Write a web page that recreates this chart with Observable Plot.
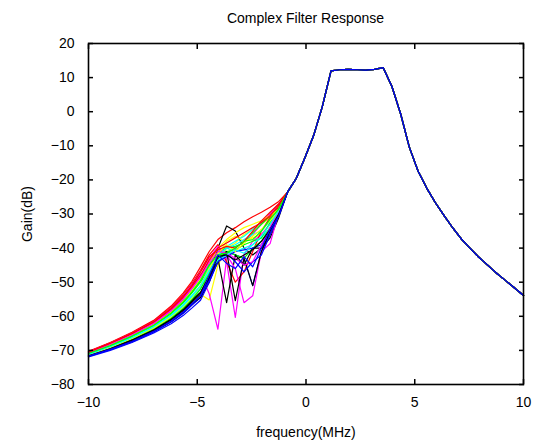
<!DOCTYPE html>
<html>
<head>
<meta charset="utf-8">
<script src="https://cdn.jsdelivr.net/npm/d3@7"></script>
<script src="https://cdn.jsdelivr.net/npm/@observablehq/plot@0.6"></script>
<style>
  html, body { margin: 0; padding: 0; background: #fff; }
  #wrap { width: 542px; height: 446px; position: relative; font-family: "Liberation Sans", Arial, sans-serif; }
  #title { position: absolute; left: 88px; width: 435px; top: 10px; height: 20px; line-height: 16px; font-size: 14px; text-align: center; color: #000; }
  #chart { position: absolute; left: 0; top: 30px; }
</style>
</head>
<body>
<div id="wrap">
  <div id="title">Complex Filter Response</div>
  <div id="chart"></div>
</div>
<script>
// ---- data ----
const xTicks = [-10, -5, 0, 5, 10];
const yTicks = [20, 10, 0, -10, -20, -30, -40, -50, -60, -70, -80];

// frequencies (MHz) where the runs differ
const freqLeft = [-10, -9, -8, -7, -6.2, -5.65, -5.25, -4.85, -4.45, -4.05, -3.65, -3.25, -2.85, -2.45, -2.05, -1.65, -1.25];
// frequencies (MHz) where all runs coincide
const freqShared = [-0.85, -0.45, -0.05, 0.35, 0.75, 1.15, 1.55, 1.95, 2.35, 2.75, 3.15, 3.55, 3.95, 4.35, 4.75, 5.15, 5.55, 5.95, 6.35, 6.75, 7.15, 7.55, 7.95, 8.35, 8.75, 9.15, 9.55, 10];
const gainShared = [-23.6, -19.6, -13.5, -7.0, 1.5, 12.0, 12.3, 12.4, 12.3, 12.2, 12.4, 12.9, 7.4, -0.6, -10.4, -17.4, -22.4, -26.7, -30.5, -34.1, -37.4, -40.1, -42.7, -45.0, -47.3, -49.4, -51.5, -53.9];

const seriesNames  = ["y1","m1","c1","r1","g1","k1","b1","y2","m2","c2","r2","g2","k2","b2",
                      "y3","m3","c3","r3","g3","k3","b3","y4","m4","c4","r4","g4","k4","b4"];
const seriesColors = ["#ffff00","#ff00ff","#00ffff","#ff0000","#00ff00","#000000","#0000ff",
                      "#ffff00","#ff00ff","#00ffff","#ff0000","#00ff00","#000000","#0000ff",
                      "#ffff00","#ff00ff","#00ffff","#ff0000","#00ff00","#000000","#0000ff",
                      "#ffff00","#ff00ff","#00ffff","#ff0000","#00ff00","#000000","#0000ff"];

const gainY1 = [-71.6,-69.6,-67.2,-64.3,-61.2,-58.6,-56.0,-53.5,-55.2,-45.0,-40.0,-38.5,-36.0,-34.5,-33.0,-31.0,-28.5];
const gainM1 = [-70.5,-67.9,-65.0,-61.7,-57.8,-54.3,-51.2,-47.5,-53.4,-63.8,-43.0,-40.0,-38.0,-36.0,-33.0,-30.0,-27.0];
const gainC1 = [-71.0,-68.6,-65.9,-62.7,-59.0,-55.7,-52.7,-49.5,-45.5,-41.0,-39.5,-38.0,-36.5,-34.5,-32.5,-30.5,-28.0];
const gainR1 = [-70.3,-67.7,-64.7,-61.2,-57.0,-53.2,-49.8,-45.5,-41.0,-37.5,-35.5,-34.0,-32.3,-30.8,-29.5,-28.0,-26.3];
const gainG1 = [-70.8,-68.4,-65.6,-62.3,-58.6,-55.3,-52.3,-49.0,-45.0,-41.0,-40.0,-39.5,-38.5,-35.5,-33.0,-30.5,-28.0];
const gainK1 = [-71.4,-69.3,-66.8,-63.8,-60.7,-57.9,-55.3,-53.0,-48.0,-40.0,-33.5,-35.0,-40.0,-42.0,-40.0,-36.0,-30.0];
const gainB1 = [-71.8,-69.8,-67.5,-64.6,-61.7,-59.2,-56.8,-54.5,-49.0,-43.0,-41.0,-42.0,-43.0,-51.0,-41.0,-36.0,-30.0];
const gainY2 = [-71.2,-69.0,-66.4,-63.3,-60.0,-57.1,-54.5,-51.5,-47.0,-42.0,-38.0,-36.5,-38.0,-37.0,-36.0,-33.0,-29.0];
const gainM2 = [-70.6,-68.1,-65.2,-61.9,-58.1,-54.7,-51.6,-48.0,-44.0,-40.0,-44.0,-60.3,-42.0,-38.0,-36.0,-33.0,-30.0];
const gainC2 = [-71.3,-69.1,-66.6,-63.5,-60.3,-57.4,-54.8,-51.8,-47.0,-42.5,-40.0,-41.0,-40.0,-39.0,-37.0,-34.0,-29.5];
const gainR2 = [-70.4,-67.8,-64.9,-61.4,-57.4,-53.7,-50.4,-46.5,-42.0,-39.0,-44.0,-50.0,-47.0,-41.0,-35.0,-31.0,-28.0];
const gainG2 = [-71.0,-68.7,-66.0,-62.9,-59.3,-56.1,-53.2,-50.0,-46.0,-42.0,-41.0,-42.0,-43.0,-40.0,-38.0,-34.0,-30.0];
const gainK2 = [-71.7,-69.6,-67.3,-64.4,-61.5,-58.9,-56.4,-54.5,-50.0,-43.0,-56.0,-42.0,-45.0,-40.0,-40.0,-37.0,-31.0];
const gainB2 = [-71.9,-70.0,-67.7,-64.9,-62.2,-59.8,-57.6,-55.3,-50.0,-44.0,-42.5,-41.0,-40.5,-40.0,-39.0,-35.0,-30.0];
const gainY3 = [-70.9,-68.5,-65.7,-62.5,-58.8,-55.5,-52.5,-49.0,-44.5,-40.0,-37.5,-35.5,-34.0,-33.0,-32.0,-30.5,-28.5];
const gainM3 = [-70.5,-67.9,-65.0,-61.6,-57.6,-54.0,-50.8,-47.0,-43.0,-39.5,-42.0,-46.0,-56.0,-54.0,-41.0,-38.7,-29.5];
const gainC3 = [-71.1,-68.8,-66.2,-63.0,-59.6,-56.6,-53.9,-51.0,-46.0,-42.0,-40.0,-39.0,-37.5,-36.0,-35.0,-32.0,-28.5];
const gainR3 = [-70.6,-68.0,-65.1,-61.8,-57.9,-54.5,-51.4,-48.0,-43.5,-40.0,-38.5,-37.0,-35.5,-34.0,-32.5,-30.5,-27.5];
const gainG3 = [-71.3,-69.2,-66.7,-63.7,-60.5,-57.7,-55.1,-52.0,-47.5,-43.0,-41.0,-40.5,-39.0,-38.0,-37.0,-32.5,-28.5];
const gainK3 = [-71.5,-69.4,-67.0,-64.1,-61.1,-58.4,-55.9,-53.5,-49.0,-44.0,-41.0,-55.4,-43.0,-51.0,-41.0,-35.0,-30.0];
const gainB3 = [-71.6,-69.5,-67.1,-64.2,-61.3,-58.7,-56.3,-54.0,-49.5,-44.0,-41.5,-44.0,-47.0,-44.0,-42.0,-36.0,-30.5];
const gainY4 = [-71.3,-69.1,-66.5,-63.4,-60.1,-57.2,-54.6,-51.0,-46.0,-41.5,-39.0,-41.0,-38.5,-36.5,-34.5,-32.0,-29.0];
const gainM4 = [-70.7,-68.2,-65.4,-62.1,-58.4,-55.0,-51.9,-48.5,-44.5,-41.0,-41.5,-43.0,-45.0,-44.0,-39.0,-34.0,-29.0];
const gainC4 = [-71.2,-68.9,-66.3,-63.1,-59.8,-56.9,-54.2,-51.0,-46.5,-43.5,-42.0,-40.5,-41.5,-39.0,-36.5,-33.0,-29.0];
const gainR4 = [-70.5,-67.9,-65.0,-61.6,-57.7,-54.2,-51.0,-47.0,-42.5,-40.5,-39.5,-40.0,-38.0,-35.0,-32.0,-29.5,-27.0];
const gainG4 = [-70.9,-68.6,-65.8,-62.6,-59.0,-55.8,-52.9,-49.5,-45.0,-42.0,-41.5,-40.0,-38.0,-37.5,-35.0,-31.5,-28.5];
const gainK4 = [-71.6,-69.5,-67.0,-64.0,-60.9,-58.1,-55.6,-53.0,-48.5,-42.5,-42.0,-43.5,-42.0,-40.5,-38.0,-34.5,-30.0];
const gainB4 = [-71.7,-69.7,-67.4,-64.5,-61.5,-58.9,-56.5,-54.0,-48.0,-42.0,-44.5,-46.0,-42.5,-45.5,-40.0,-34.5,-30.5];

const seriesLeftGains = [gainY1,gainM1,gainC1,gainR1,gainG1,gainK1,gainB1,
                         gainY2,gainM2,gainC2,gainR2,gainG2,gainK2,gainB2,
                         gainY3,gainM3,gainC3,gainR3,gainG3,gainK3,gainB3,
                         gainY4,gainM4,gainC4,gainR4,gainG4,gainK4,gainB4];

// ---- build table ----
const freqAll = freqLeft.concat(freqShared);
const rows = [];
seriesNames.forEach((name, i) => {
  const g = seriesLeftGains[i].concat(gainShared);
  freqAll.forEach((f, j) => rows.push({series: name, freq: f, gain: g[j]}));
});

const chart = Plot.plot({
  width: 542,
  height: 416,
  marginTop: 13,
  marginBottom: 62,
  marginLeft: 88,
  marginRight: 19,
  style: {fontFamily: "'Liberation Sans', Arial, sans-serif", fontSize: "14px", color: "#000", background: "#fff", overflow: "visible"},
  x: {domain: [-10, 10]},
  y: {domain: [-80, 20]},
  color: {domain: seriesNames, range: seriesColors},
  marks: [
    Plot.line(rows, {x: "freq", y: "gain", z: "series", stroke: "series", strokeWidth: 1.2}),
    Plot.frame({stroke: "#000", strokeWidth: 1.6}),
    Plot.axisX({anchor: "bottom", ticks: xTicks, tickSize: -5, tickPadding: 18, strokeWidth: 1.5,
                label: "frequency(MHz)", labelAnchor: "center", labelOffset: 52, labelArrow: "none"}),
    Plot.axisX({anchor: "top", ticks: xTicks, tickSize: -5, strokeWidth: 1.5, tickFormat: () => "", label: null}),
    Plot.axisY({anchor: "left", ticks: yTicks, tickSize: -5, tickPadding: 19, strokeWidth: 1.5,
                label: "Gain(dB)", labelAnchor: "center", labelOffset: 66, labelArrow: "none"}),
    Plot.axisY({anchor: "right", ticks: yTicks, tickSize: -5, strokeWidth: 1.5, tickFormat: () => "", label: null})
  ]
});
document.getElementById("chart").appendChild(chart);
</script>
</body>
</html>
